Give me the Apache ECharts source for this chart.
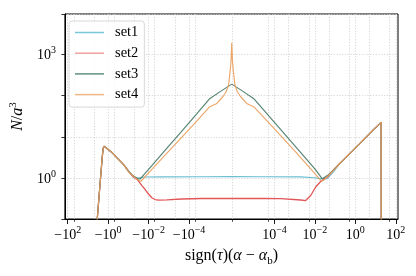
<!DOCTYPE html>
<html>
<head>
<meta charset="utf-8">
<script src="https://cdn.jsdelivr.net/npm/echarts@6/dist/echarts.min.js"></script>
<style>html,body{margin:0;padding:0;background:#fff}#c{width:416px;height:276px}</style>
</head>
<body>
<div id="c"></div>
<script>
// ---- data (x in original units: sign(tau)(alpha - alpha_b), y = N/a^3) ----
const seriesNames = ['set1', 'set2', 'set3', 'set4'];

const leftX = [-3.6, -3.48, -2.48, -1.97, -1.76, -1.57, -1.26, -0.64, -0.30, -0.164];
const leftY = [0.02, 0.101, 0.79, 3.15, 5.33, 5.96, 5.63, 4.15, 2.82, 2.08];

const rightX = [0.152, 1.21, 7.93, 18.9, 19.2];
const rightY = [2.14, 5.89, 14.9, 22.3, 0.02];

const set1X = [-0.0966, -0.0548, -0.0337, -0.0148, -0.002, -2e-5, 0, 2e-5, 0.002, 0.009, 0.0232, 0.0409, 0.0863];
const set1Y = [1.49, 1.04, 1.01, 1.07, 1.08, 1.09, 1.10, 1.09, 1.08, 1.03, 0.97, 0.98, 1.47];

const set2X = [-0.0966, -0.0548, -0.0327, -0.0215, -0.0148, -0.0101, -0.00693, -0.00477, -0.00325, -0.00127, -2.33e-4, -2.4e-5, 0, 2.4e-5, 2.1e-4, 0.002, 0.0035, 0.0062, 0.0109, 0.0192, 0.0409, 0.0863];
const set2Y = [1.45, 1.07, 0.88, 0.667, 0.535, 0.417, 0.338, 0.307, 0.296, 0.302, 0.316, 0.325, 0.326, 0.325, 0.322, 0.299, 0.290, 0.383, 0.614, 0.833, 1.07, 1.62];

const set3X = [-0.0966, -0.0548, -0.0337, -0.026, -0.00693, -0.00127, -2.33e-4, -4.28e-5, -1e-5, -5e-6, 0, 5e-6, 1e-5, 1e-4, 1e-3, 0.01, 0.0232, 0.0279, 0.0409, 0.0863];
const set3Y = [1.45, 1.13, 0.97, 0.97, 2.03, 5.27, 13.6, 35.1, 81.4, 125, 187, 125, 81.4, 22.3, 6.12, 1.68, 0.97, 0.97, 1.16, 1.62];

const set4X = [-0.0966, -0.0548, -0.0337, -0.024, -0.0215, -0.00693, -0.00127, -2.33e-4, -4.28e-5, -1e-5, -6.85e-6, -3.89e-6, -2.43e-6, -1.41e-6, -6.6e-7, -3e-7, 0, 3e-7, 6.6e-7, 1.41e-6, 2.43e-6, 3.89e-6, 6.85e-6, 1e-5, 1e-4, 1e-3, 0.01, 0.0207, 0.0279, 0.0409, 0.0863];
const set4Y = [1.41, 1.10, 0.905, 0.847, 0.85, 1.63, 3.97, 9.7, 23.7, 52.2, 62.7, 94, 124, 180, 413, 700, 1872, 700, 413, 180, 124, 94, 62.7, 52.2, 15.5, 4.6, 1.3, 0.85, 0.905, 1.10, 1.58];

const seriesColors = ['#5cb9cf', '#e0484a', '#45796578', '#eaa05c'];
const lineColors = ['#5cb9cf', '#e0484a', '#467a66', '#eaa05c'];
const legendColors = ['#78c6d9', '#f0a2a2', '#63907f', '#f2b886'];

const xMajorTicks = [-100, -1, -0.01, -1e-4, 1e-4, 0.01, 1, 100];
const xTickLabels = ['−10^2', '−10^0', '−10^−2', '−10^−4', '10^−4', '10^−2', '10^0', '10^2'];
const xMinorTicks = [-50, -0.5, -5e-3, -5e-5, 0, 5e-5, 5e-3, 0.5, 50];
const xGridValues = [-100, -50, -5, -1, -0.5, -0.05, -0.01, -5e-3, -5e-4, -1e-4, -5e-5, 0, 5e-5, 1e-4, 5e-4, 5e-3, 0.01, 0.05, 0.5, 1, 5, 50, 100];

const yTickValues = [1, 1000];
const yTickLabels = ['10^0', '10^3'];

// ---- symlog scale (linthresh 1e-5, linscale 1) ----
const LT = 1e-5, LS = 1 / (1 - 0.1);
function symlog(x) {
  const a = Math.abs(x);
  if (a <= LT) return x / LT * LS;
  return Math.sign(x) * (LS + Math.log10(a / LT));
}

function build(xs, ys) {
  const X = leftX.concat(xs, rightX), Y = leftY.concat(ys, rightY);
  return X.map((x, i) => [symlog(x), Y[i]]);
}
const setsX = [set1X, set2X, set3X, set4X];
const setsY = [set1Y, set2Y, set3Y, set4Y];

const FONT = 'Liberation Serif';
const tickRich = {
  b: {fontFamily: FONT, fontSize: 14, color: '#000', lineHeight: 17, verticalAlign: 'bottom'},
  s: {fontFamily: FONT, fontSize: 10, color: '#000', lineHeight: 17, verticalAlign: 'top'}
};
function supLabel(str) {
  const p = str.split('^');
  return '{b|' + p[0] + '}{s|' + p[1] + '}';
}

const XMIN = -8.25, XMAX = 8.22;
const gridLine = {show: true, lineStyle: {color: '#cdcdcd', type: [1.2, 1.6], width: 0.8}};

const option = {
  animation: false,
  grid: {left: 62, right: 18, top: 14, bottom: 57, show: true, borderColor: '#000', borderWidth: 1, backgroundColor: 'transparent'},
  xAxis: [
    {
      type: 'value', min: XMIN, max: XMAX, position: 'bottom', z: 5,
      axisLine: {show: true, onZero: false, lineStyle: {color: '#000', width: 1}},
      axisTick: {show: true, length: 5, customValues: xMajorTicks.map(symlog), lineStyle: {color: '#000', width: 0.9}},
      axisLabel: {
        show: true, margin: 6, customValues: xMajorTicks.map(symlog),
        formatter: function (v) {
          for (let i = 0; i < xMajorTicks.length; i++) {
            if (Math.abs(symlog(xMajorTicks[i]) - v) < 1e-6) return supLabel(xTickLabels[i]);
          }
          return '';
        },
        rich: tickRich
      },
      splitLine: {show: false}
    },
    {
      type: 'value', min: XMIN, max: XMAX, position: 'bottom', z: 5,
      axisLine: {show: false, onZero: false},
      axisTick: {show: true, length: 2.8, customValues: xMinorTicks.map(symlog), lineStyle: {color: '#000', width: 0.7}},
      axisLabel: {show: false},
      splitLine: {show: false}
    },
    {
      type: 'value', min: XMIN, max: XMAX, position: 'bottom',
      axisLine: {show: false, onZero: false},
      axisTick: {show: false, customValues: xGridValues.map(symlog)},
      axisLabel: {show: false},
      splitLine: gridLine
    }
  ],
  yAxis: [
    {
      type: 'log', logBase: 10, min: 0.104, max: 9200,
      axisLine: {show: true, onZero: false, lineStyle: {color: '#000', width: 1}},
      axisTick: {show: true, length: 3.5, lineStyle: {color: '#000', width: 0.8}},
      axisLabel: {
        show: true, margin: 9,
        formatter: function (v) {
          for (let i = 0; i < yTickValues.length; i++) {
            if (Math.abs(Math.log10(v) - Math.log10(yTickValues[i])) < 1e-6) return supLabel(yTickLabels[i]);
          }
          return '';
        },
        rich: tickRich
      },
      splitLine: gridLine,
      minorTick: {show: false},
      name: '{i|N}{r|/}{i|a}{s|3}',
      nameLocation: 'middle', nameGap: 36, nameRotate: 90,
      nameTextStyle: {
        rich: {
          i: {fontFamily: FONT, fontStyle: 'italic', fontSize: 16, color: '#000', lineHeight: 18, verticalAlign: 'bottom'},
          r: {fontFamily: FONT, fontSize: 16, color: '#000', lineHeight: 18, verticalAlign: 'bottom'},
          s: {fontFamily: FONT, fontSize: 11, color: '#000', lineHeight: 18, verticalAlign: 'top'}
        }
      }
    }
  ],
  legend: {
    orient: 'vertical', left: 69, top: 21, padding: [4, 6, 5, 6], itemGap: 5.7,
    itemWidth: 29, itemHeight: 1.5, icon: 'rect',
    borderColor: '#d8d8d8', borderWidth: 1, borderRadius: 3, backgroundColor: 'rgba(255,255,255,0.85)',
    textStyle: {fontFamily: FONT, fontSize: 14.5, color: '#000', lineHeight: 14, padding: [0, 0, 0, 6]},
    data: seriesNames.map((n, i) => ({name: n, itemStyle: {color: legendColors[i]}}))
  },
  series: seriesNames.map((n, i) => ({
    name: n, type: 'line', xAxisIndex: 0, yAxisIndex: 0,
    data: build(setsX[i], setsY[i]),
    showSymbol: false, symbol: 'none', smooth: false, clip: true,
    color: lineColors[i],
    lineStyle: {color: lineColors[i], width: i === 1 ? 1.3 : 1.15, opacity: 0.92},
    z: 3 + i
  }))
};

// x axis title (rich text)
option.xAxis[0].name = '{r|sign(}{i|τ}{r|)(}{i|α}{r| − }{i|α}{u|b}{r|)}';
option.xAxis[0].nameLocation = 'middle';
option.xAxis[0].nameGap = 29;
option.xAxis[0].nameTextStyle = {
  rich: {
    r: {fontFamily: FONT, fontSize: 16, color: '#000', lineHeight: 19, verticalAlign: 'top'},
    i: {fontFamily: FONT, fontStyle: 'italic', fontSize: 16, color: '#000', lineHeight: 19, verticalAlign: 'top'},
    u: {fontFamily: FONT, fontSize: 11, color: '#000', lineHeight: 19, verticalAlign: 'bottom'}
  }
};

const chart = echarts.init(document.getElementById('c'), null, {renderer: 'canvas'});
chart.setOption(option);
</script>
</body>
</html>
